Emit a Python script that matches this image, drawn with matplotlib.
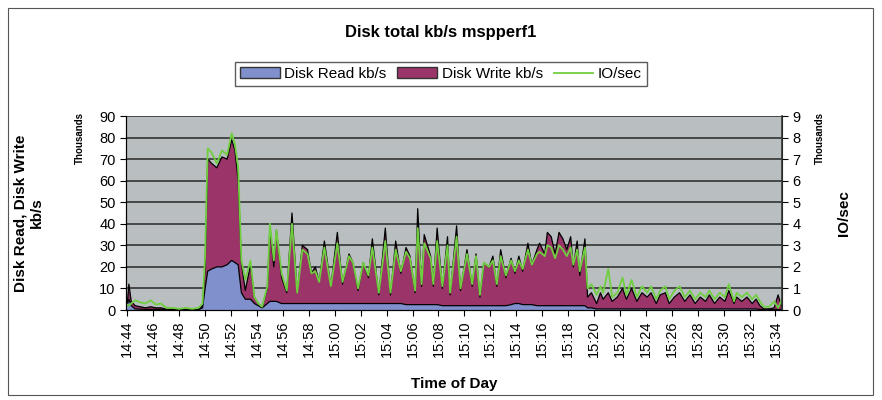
import numpy as np
import matplotlib.pyplot as plt
from matplotlib.patches import Rectangle

plt.rcParams['font.family'] = ['Liberation Sans', 'DejaVu Sans']

# minutes after 14:44
t_min = [0.0, 0.12, 0.3, 0.6, 1.0, 1.4, 1.8, 2.2, 2.6, 3.0, 3.5, 4.0, 4.5, 5.0, 5.5, 5.8,
         6.0, 6.2, 6.5, 6.9, 7.3, 7.7, 8.05, 8.3, 8.55, 8.8, 9.1, 9.5, 9.8, 10.1, 10.4, 10.8,
         11.0, 11.3, 11.5, 11.9, 12.3, 12.7, 13.1, 13.5, 13.9, 14.2, 14.5, 14.8, 15.2, 15.7,
         16.2, 16.6, 17.1, 17.4, 17.8, 18.2, 18.6, 18.9, 19.4, 19.9, 20.3, 20.7, 21.1, 21.5,
         21.8, 22.2, 22.4, 22.7, 22.9, 23.4, 23.6, 23.9, 24.3, 24.7, 24.9, 25.4, 25.7, 26.2,
         26.6, 26.9, 27.2, 27.5, 27.9, 28.2, 28.5, 28.8, 29.2, 29.6, 29.9, 30.2, 30.5, 30.9,
         31.2, 31.6, 31.8, 32.2, 32.4, 32.7, 33.0, 33.3, 33.6, 33.9, 34.2, 34.4, 34.7, 34.9,
         35.3, 35.5, 35.8, 36.2, 36.5, 36.7, 37.1, 37.4, 37.8, 38.2, 38.5, 38.9, 39.3, 39.7,
         40.1, 40.4, 40.8, 41.1, 41.5, 41.8, 42.2, 42.6, 43.0, 43.4, 43.8, 44.2, 44.6, 44.9,
         45.3, 45.7, 46.1, 46.4, 46.8, 47.0, 47.4, 47.8, 48.2, 48.5, 48.8, 49.1, 49.5, 49.9,
         50.2, 50.5]

# thousands kb/s
disk_read = [2.5, 5, 2, 0.5, 0.4, 0.3, 0.3, 0.3, 0.3, 0.2, 0.1, 0.1, 0.1, 0.1, 0.2, 1,
             10, 18, 19, 20, 20, 21, 23, 22, 21, 8, 5, 5, 3, 2, 1, 3,
             4, 4, 4, 3, 3, 3, 3, 3, 3, 3, 3, 3, 3, 3,
             3, 3, 3, 3, 3, 3, 3, 3, 3, 3, 3, 3, 3, 2.5,
             2.5, 2.5, 2.5, 2.5, 2.5, 2.5, 2.5, 2.5, 2, 2, 2, 2, 2, 2,
             2, 2, 2, 2, 2, 2, 2, 2, 2, 2.5, 3, 3, 2.5, 2.5,
             2.5, 2, 2, 2, 2, 2, 2, 2, 2, 2, 2, 2, 2, 2,
             2, 1, 1, 0.5, 0.5, 0.5, 0.5, 0.5, 0.5, 0.5, 0.5, 0.5, 0.5, 0.5,
             0.5, 0.5, 0.5, 0.5, 0.5, 0.5, 0.5, 0.5, 0.5, 0.5, 0.5, 0.5, 0.5, 0.5,
             0.5, 0.5, 0.5, 0.5, 0.5, 0.5, 0.5, 0.5, 0.5, 0.5, 0.3, 0.2, 0.2, 0.2,
             0.3, 0.2]

disk_write = [0.5, 7, 2, 1.5, 1.1, 0.7, 1.2, 0.7, 0.7, 0.2, 0.2, 0.2, 0.2, 0.2, 0.3, 1,
              10, 52, 49, 46, 51, 49, 56, 52, 39, 14, 4, 16, 3, 1, 0.5, 7,
              34, 16, 33, 12, 5, 42, 5, 27, 25, 14, 17, 10, 29, 8,
              33, 9, 23, 19, 6, 19, 12, 30, 4, 35, 4, 29, 14, 26.5,
              22.5, 5.5, 44.5, 8.5, 32.5, 22.5, 8.5, 35.5, 8, 32, 5, 37, 7, 26,
              9, 24, 4, 20, 18, 23, 9, 26, 13, 21.5, 14, 22, 15.5, 28.5,
              18.5, 26, 29, 24, 34, 32, 24, 34, 31, 26, 32, 18, 30, 14,
              31, 5, 7, 2.5, 7.5, 4.5, 7.5, 3.5, 5.5, 9.5, 4.5, 9.5, 3.5, 7.5,
              5.5, 7.5, 2.5, 6.5, 7.5, 2.5, 5.5, 7.5, 3.5, 6.5, 2.5, 5.5, 3.5, 6.5,
              2.5, 5.5, 3.5, 8.5, 2.5, 5.5, 3.5, 5.5, 2.5, 4.5, 1.7, 0.3, 0.3, 0.8,
              6.7, 0.8]

# thousands IO/sec
io_sec = [0.25, 0.2, 0.3, 0.45, 0.35, 0.3, 0.45, 0.25, 0.3, 0.1, 0.1, 0.05, 0.1, 0.05, 0.1, 0.3,
          2.5, 7.5, 7.3, 6.8, 7.4, 7.2, 8.2, 7.7, 6.6, 2.3, 1.4, 2.3, 0.6, 0.3, 0.15, 1.1,
          4.0, 2.3, 3.7, 1.7, 0.9, 4.0, 0.8, 2.8, 2.6, 1.7, 1.8, 1.3, 2.9, 1.1,
          3.1, 1.3, 2.5, 2.2, 1.0, 2.2, 1.6, 2.9, 0.8, 3.2, 0.8, 2.8, 1.8, 2.7,
          2.4, 0.9, 3.8, 1.2, 3.1, 2.4, 1.2, 3.2, 1.1, 3.0, 0.8, 3.4, 1.0, 2.6,
          1.2, 2.5, 0.7, 2.2, 2.0, 2.3, 1.2, 2.5, 1.6, 2.3, 1.8, 2.3, 1.9, 2.8,
          2.1, 2.6, 2.7, 2.5, 3.0, 2.9, 2.4, 3.0, 2.8, 2.5, 2.9, 2.1, 2.8, 1.8,
          2.9, 1.0, 1.2, 0.7, 1.1, 0.8, 1.9, 0.6, 0.8, 1.5, 0.7, 1.4, 0.6, 1.1,
          0.8, 1.1, 0.5, 0.9, 1.1, 0.5, 0.9, 1.1, 0.6, 0.9, 0.5, 0.8, 0.6, 0.9,
          0.5, 0.8, 0.6, 1.2, 0.4, 0.8, 0.6, 0.8, 0.5, 0.7, 0.4, 0.15, 0.15, 0.4,
          0.1, 0.5]

tick_pos = list(range(0, 51, 2))
tick_labels = ['14:44', '14:46', '14:48', '14:50', '14:52', '14:54', '14:56', '14:58',
               '15:00', '15:02', '15:04', '15:06', '15:08', '15:10', '15:12', '15:14',
               '15:16', '15:18', '15:20', '15:22', '15:24', '15:26', '15:28', '15:30',
               '15:32', '15:34']

fig = plt.figure(figsize=(8.82, 4.0), dpi=100)
fig.patches.append(Rectangle((0.009, 0.012), 0.981, 0.968, transform=fig.transFigure,
                             fill=False, edgecolor='#555555', linewidth=0.8))
ax = fig.add_axes([0.1429, 0.225, 0.7437, 0.485])
ax.set_facecolor('#b9bfc1')

t = np.array(t_min)
rd = np.array(disk_read)
wr = np.array(disk_write)
ax.fill_between(t, 0, rd, facecolor='#8090cc', edgecolor='none', label='Disk Read kb/s')
ax.fill_between(t, rd, rd + wr, facecolor='#9b3468', edgecolor='none', label='Disk Write kb/s')
ax.plot(t, rd, color='black', lw=0.9)
ax.plot(t, rd + wr, color='black', lw=0.9)

ax.set_xlim(-0.1, 50.5)
ax.set_ylim(0, 90)
ax.set_yticks(range(0, 91, 10))
ax.yaxis.grid(True, color='#333333', lw=1.2)
ax.set_axisbelow(True)
ax.set_xticks(tick_pos)
ax.set_xticklabels(tick_labels, rotation=90, fontsize=10.5)
ax.tick_params(axis='y', labelsize=10.5, direction='out', length=4)
ax.tick_params(axis='x', direction='out', length=4)
ax.spines['top'].set_visible(False)

ax2 = ax.twinx()
ax2.plot(t, io_sec, color='#6fcf3f', lw=1.3, label='IO/sec')
ax2.set_ylim(0, 9)
ax2.set_yticks(range(0, 10))
ax2.tick_params(axis='y', labelsize=10.5, direction='out', length=4)
ax2.spines['top'].set_visible(False)
ax2.spines['right'].set_color('#333333')
ax2.spines['right'].set_linewidth(1.2)

ax.set_xlabel('Time of Day', fontsize=11, fontweight='bold', labelpad=14)
ax.set_ylabel('Disk Read, Disk Write\nkb/s', fontsize=11, fontweight='bold', labelpad=40)
ax2.set_ylabel('IO/sec', fontsize=11, fontweight='bold', labelpad=26)
fig.text(0.091, 0.655, 'Thousands', rotation=90, fontsize=7, fontweight='bold',
         ha='center', va='center')
fig.text(0.929, 0.655, 'Thousands', rotation=90, fontsize=7, fontweight='bold',
         ha='center', va='center')

fig.text(0.5, 0.918, 'Disk total kb/s mspperf1', fontsize=12, fontweight='bold',
         ha='center', va='center')

h1, l1 = ax.get_legend_handles_labels()
h2, l2 = ax2.get_legend_handles_labels()
leg = fig.legend(h1 + h2, l1 + l2, loc='center', bbox_to_anchor=(0.5, 0.815), ncol=3,
                 fontsize=11, frameon=True, fancybox=False, edgecolor='#333333',
                 handlelength=2.6, handletextpad=0.3, columnspacing=0.7,
                 borderpad=0.35)
leg.get_frame().set_linewidth(1.0)
for h in leg.legend_handles[:2]:
    h.set_edgecolor('#333333')

fig.savefig('out.png', dpi=100)
